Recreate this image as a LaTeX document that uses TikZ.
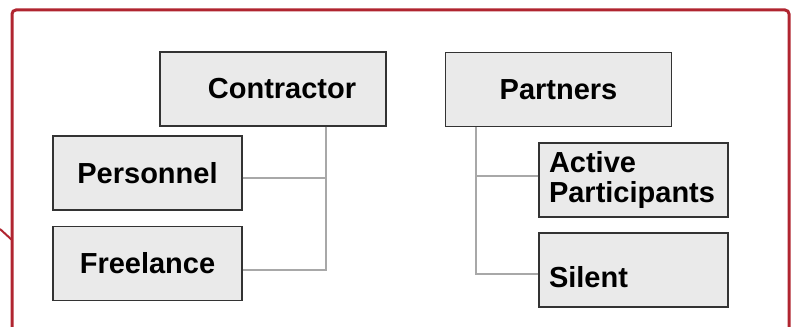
\documentclass[tikz,border=0pt]{standalone}
\usepackage{fontspec}
\setmainfont{Liberation Sans}
\usetikzlibrary{positioning}
\definecolor{framered}{HTML}{B02530}
\definecolor{boxgray}{HTML}{EAEAEA}
\definecolor{linegray}{HTML}{A8A8A8}
\tikzset{
    frame/.style = {draw=framered,line width=1.5pt,rounded corners=2pt},
    box/.style = {rectangle, draw=black!80, line width=0.7pt, fill=boxgray, minimum height=37pt, font=\bfseries\fontsize{14.5}{16}\selectfont},
    boxw/.style = {box, minimum width=113pt},
    boxn/.style = {box, minimum width=94.5pt},
    boxl/.style = {boxn, align=left, text width=84.5pt, inner xsep=5pt},
    link/.style = {draw=linegray, line width=1pt}
}

\begin{document}
\begin{tikzpicture}[x=0.5pt,y=-0.5pt]
\useasboundingbox (0,0) rectangle (795,326);
\draw[frame] (12,345) -- (12,10) -- (789,10) -- (789,345);
\coordinate (tip) at (0,229);
\draw[draw=framered,line width=1pt] (tip) -- (12,240);
%
\node[boxw] at (273.0, 89.0) (con) {\hspace*{9pt}Contractor};
\node[boxn] at (147.5, 173.0) (per) {Personnel};
\node[boxn] at (147.5, 263.5) (fre) {Freelance};
\node[boxw] at (558.5, 89.5) (par) {Partners};
\node[boxl] at (633.5, 180.0) (act) {Active\\[-1pt]Participants};
\node[boxl, text height=17pt, text depth=0pt] at (633.5, 270.0) (sil) {Silent};
%
\draw[link] (con.south -| 326,0) |- ([yshift=-3pt]fre.east);
\draw[link] ([yshift=-2.5pt]per.east) -- ([yshift=-2.5pt]per.east -| 326,0);
\draw[link] (par.south -| 476,0) |- ([yshift=-2pt]sil.west);
\draw[link] ([yshift=2pt]act.west) -- ([yshift=2pt]act.west -| 476,0);

\end{tikzpicture}
\end{document}
